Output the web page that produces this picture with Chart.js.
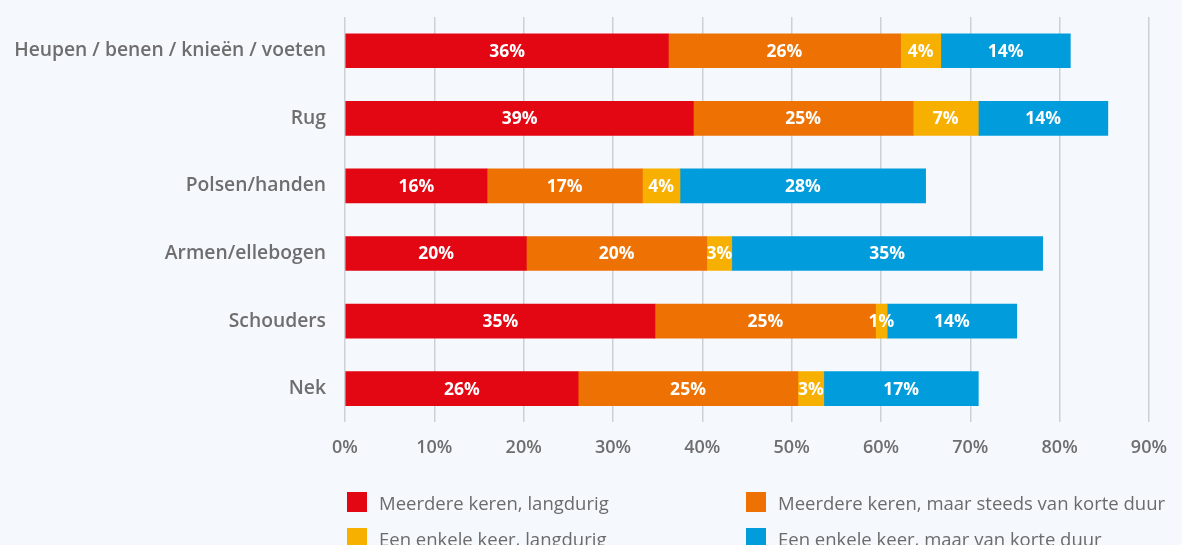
<!DOCTYPE html>
<html>
<head>
<meta charset="utf-8">
<script src="https://cdn.jsdelivr.net/npm/chart.js@4/dist/chart.umd.min.js"></script>
<style>
  html, body { margin: 0; padding: 0; background: #f5f8fd; }
  #wrap { position: relative; width: 1182px; height: 545px; overflow: hidden; }
  #legend {
    position: absolute; left: 347px; top: 491px;
    display: grid; grid-template-columns: 399px auto; row-gap: 14px;
    font-family: "Open Sans", sans-serif; font-size: 18.5px; font-weight: 500; color: #6b6b6b;
  }
  .item { display: flex; align-items: center; height: 22px; white-space: nowrap; }
  .box { width: 20px; height: 20px; margin-right: 12px; }
</style>
</head>
<body>
<div id="wrap">
  <canvas id="chart" width="1182" height="545"></canvas>
  <div id="legend"></div>
</div>
<script>
// categories, top to bottom
const categories = ['Heupen / benen / knieën / voeten', 'Rug', 'Polsen/handen', 'Armen/ellebogen', 'Schouders', 'Nek'];

// series names + colours
const seriesNames = [
  'Meerdere keren, langdurig',
  'Meerdere keren, maar steeds van korte duur',
  'Een enkele keer, langdurig',
  'Een enkele keer, maar van korte duur'
];
const seriesColors = ['#e30613', '#ee7203', '#f8b000', '#009cdc'];

// bar lengths (percent)
const meerdereLang = [36.2, 39.0, 15.9, 20.3, 34.7, 26.1];
const meerdereKort = [26.0, 24.6, 17.4, 20.2, 24.7, 24.6];
const enkeleLang = [4.5, 7.3, 4.2, 2.8, 1.3, 2.9];
const enkeleKort = [14.5, 14.5, 27.5, 34.8, 14.5, 17.3];

// printed labels inside the bars
const lblMeerdereLang = ['36%', '39%', '16%', '20%', '35%', '26%'];
const lblMeerdereKort = ['26%', '25%', '17%', '20%', '25%', '25%'];
const lblEnkeleLang = ['4%', '7%', '4%', '3%', '1%', '3%'];
const lblEnkeleKort = ['14%', '14%', '28%', '35%', '14%', '17%'];

const xMax = 90;
const xStep = 10;

const seriesData = [meerdereLang, meerdereKort, enkeleLang, enkeleKort];
const seriesLabels = [lblMeerdereLang, lblMeerdereKort, lblEnkeleLang, lblEnkeleKort];

// white labels centred in each segment
const barLabels = {
  id: 'barLabels',
  afterDatasetsDraw(chart) {
    const ctx = chart.ctx;
    ctx.save();
    ctx.fillStyle = '#ffffff';
    ctx.font = '700 17.5px "Open Sans", sans-serif';
    ctx.textAlign = 'center';
    ctx.textBaseline = 'middle';
    chart.data.datasets.forEach((ds, i) => {
      chart.getDatasetMeta(i).data.forEach((bar, j) => {
        const x = (bar.x + bar.base) / 2;
        ctx.fillText(seriesLabels[i][j], x, bar.y + 1);
      });
    });
    ctx.restore();
  }
};

new Chart(document.getElementById('chart'), {
  type: 'bar',
  data: {
    labels: categories,
    datasets: seriesData.map((d, i) => ({
      label: seriesNames[i],
      data: d,
      backgroundColor: seriesColors[i],
      borderWidth: 0,
      barThickness: 34
    }))
  },
  options: {
    indexAxis: 'y',
    responsive: false,
    animation: false,
    layout: { padding: { top: 17, right: 32, bottom: 71, left: 0 } },
    plugins: { legend: { display: false }, tooltip: { enabled: false } },
    scales: {
      x: {
        stacked: true,
        min: 0,
        max: xMax,
        ticks: {
          stepSize: xStep,
          padding: 15,
          color: '#6e6e6e',
          font: { family: 'Open Sans', size: 18, weight: '600' },
          callback: v => v + '%'
        },
        grid: { color: '#cdd0d4', lineWidth: 1.5, drawTicks: false },
        border: { display: false }
      },
      y: {
        stacked: true,
        afterFit: s => { s.width = 345; s.paddingTop = 0; s.paddingBottom = 0; },
        ticks: {
          padding: 19,
          color: '#6e6e6e',
          font: { family: 'Open Sans', size: 19.3, weight: '600' }
        },
        grid: { display: false, drawTicks: false },
        border: { display: false }
      }
    }
  },
  plugins: [barLabels]
});

// two-column legend
document.getElementById('legend').innerHTML = [0, 1, 2, 3].map(i =>
  `<div class="item"><span class="box" style="background:${seriesColors[i]}"></span>${seriesNames[i]}</div>`
).join('');
</script>
</body>
</html>
